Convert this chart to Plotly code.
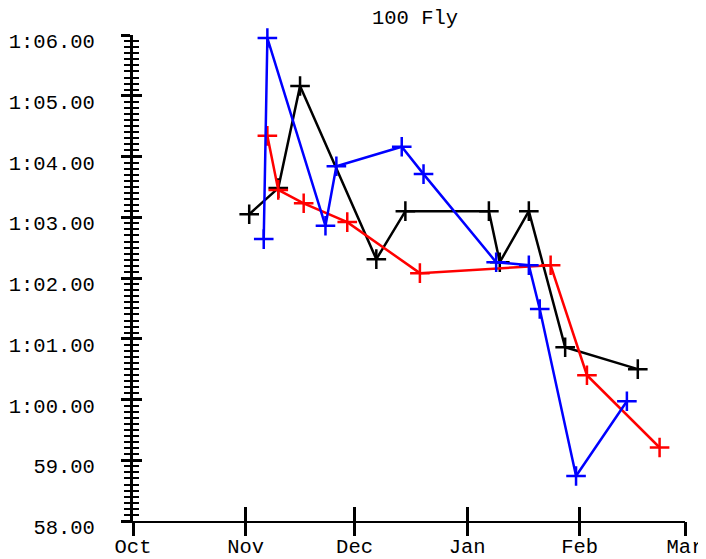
import plotly.graph_objects as go

# ---- data (times in seconds) ----
black_dates = ["2023-11-02", "2023-11-10", "2023-11-16", "2023-12-07", "2023-12-15",
               "2024-01-07", "2024-01-10", "2024-01-18", "2024-01-28", "2024-02-17"]
black_times = [63.05, 63.48, 65.16, 62.31, 63.10, 63.10, 62.26, 63.10, 60.86, 60.50]

red_dates = ["2023-11-07", "2023-11-10", "2023-11-17", "2023-11-29", "2023-12-19",
             "2024-01-24", "2024-02-03", "2024-02-23"]
red_times = [64.34, 63.45, 63.23, 62.92, 62.08, 62.21, 60.40, 59.21]

blue_dates = ["2023-11-06", "2023-11-07", "2023-11-23", "2023-11-26", "2023-12-14",
              "2023-12-20", "2024-01-09", "2024-01-18", "2024-01-21", "2024-01-31",
              "2024-02-14"]
blue_times = [62.64, 65.95, 62.86, 63.84, 64.16, 63.71, 62.26, 62.21, 61.49, 58.74, 59.97]

y_tickvals = [58, 59, 60, 61, 62, 63, 64, 65, 66]
y_ticktext = ["58.00", "59.00", "1:00.00", "1:01.00", "1:02.00", "1:03.00",
              "1:04.00", "1:05.00", "1:06.00"]
x_range = ["2023-10-01", "2024-03-01"]
y_range = [58, 66]
title_text = "100 Fly"

FONT = "Liberation Mono, Courier New, monospace"
FS = 20.5

# the page body has an 8px margin, so the figure is placed at (8, 8)
W, H = 698, 551

fig = go.Figure()
for d, t, c in [(black_dates, black_times, "#000000"),
                (red_dates, red_times, "#ff0000"),
                (blue_dates, blue_times, "#0000ff")]:
    fig.add_trace(go.Scatter(
        x=d, y=t, mode="lines+markers",
        line=dict(color=c, width=2.5),
        marker=dict(symbol="cross-thin", size=14, line=dict(color=c, width=2.5), color=c),
        showlegend=False, cliponaxis=False))

# helper trace to realise the overlaid axes (other half of crossing ticks)
fig.add_trace(go.Scatter(x=[], y=[], xaxis="x2", yaxis="y2", showlegend=False))

minor_y = dict(tickmode="linear", tick0=58, dtick=0.1, ticklen=6, tickwidth=2,
               tickcolor="black")

fig.update_layout(
    width=W, height=H,
    margin=dict(l=125, r=21, t=27, b=38, autoexpand=False),
    paper_bgcolor="white", plot_bgcolor="white",
    font=dict(family=FONT, size=FS, color="black"),
    title=dict(text=title_text, x=(415 - 133) / 552, xref="paper", xanchor="center",
               y=1 - 8.5 / H, yref="container", yanchor="middle",
               font=dict(family=FONT, size=FS, color="black")),
    xaxis=dict(type="date", range=x_range, tickmode="linear", tick0="2023-10-01",
               dtick="M1", tickformat="%b", ticks="inside", ticklen=14, tickwidth=3,
               tickcolor="black", showline=True, linecolor="black", linewidth=2,
               showgrid=False, zeroline=False, fixedrange=True, automargin=False,
               ticklabelstandoff=5, tickfont=dict(family=FONT, size=FS)),
    xaxis2=dict(type="date", range=x_range, overlaying="x", anchor="y", side="bottom",
                tickmode="linear", tick0="2023-10-01", dtick="M1", ticks="outside",
                ticklen=14, tickwidth=3, tickcolor="black", showticklabels=False,
                showline=False, showgrid=False, zeroline=False, automargin=False),
    yaxis=dict(range=y_range, tickmode="array", tickvals=y_tickvals, ticktext=y_ticktext,
               ticks="outside", ticklen=9, tickwidth=3, tickcolor="black",
               minor=dict(ticks="outside", **minor_y),
               showline=True, linecolor="black", linewidth=3, showgrid=False,
               zeroline=False, ticklabelstandoff=22, ticklabelshift=6,
               automargin=False, tickfont=dict(family=FONT, size=FS)),
    yaxis2=dict(range=y_range, overlaying="y", anchor="x", side="left",
                tickmode="array", tickvals=y_tickvals, ticks="inside", ticklen=9,
                tickwidth=3, tickcolor="black", minor=dict(ticks="inside", **minor_y),
                showticklabels=False, showline=False, showgrid=False, zeroline=False,
                automargin=False),
)

fig.write_html("out.html")
